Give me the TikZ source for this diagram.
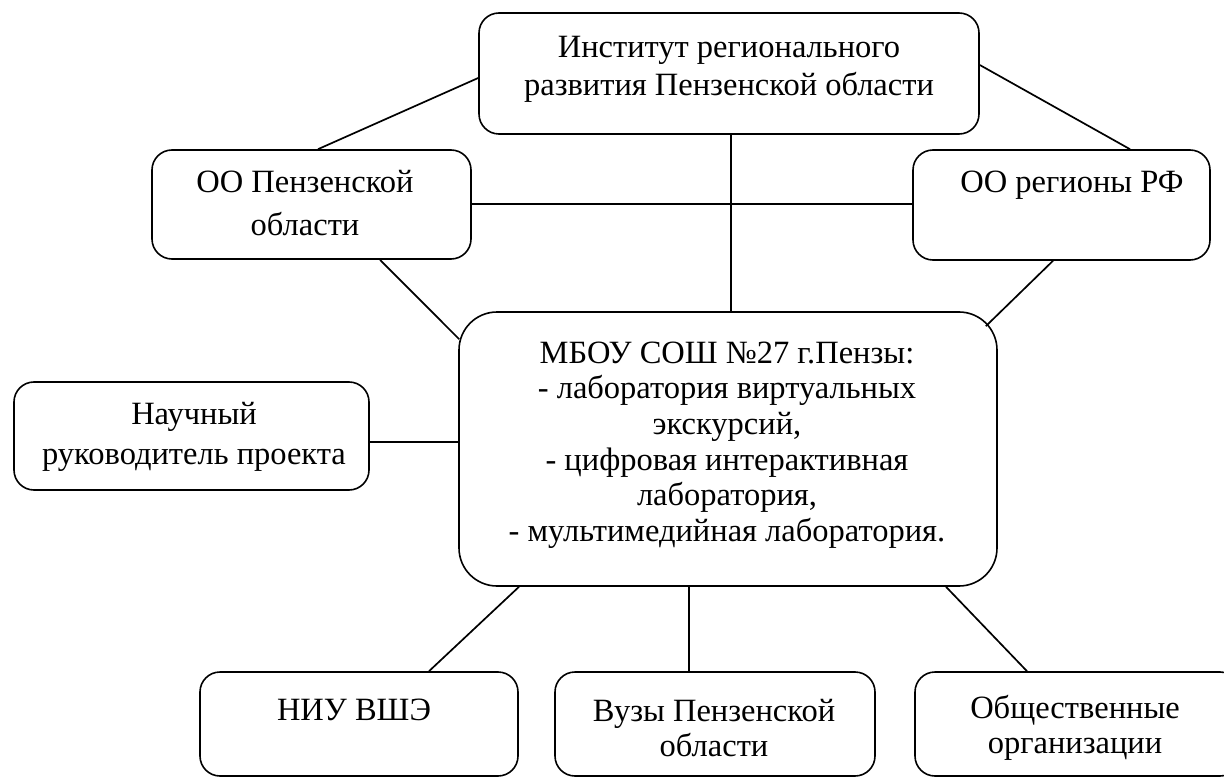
\documentclass[tikz,border=0pt]{standalone}
\usepackage{fontspec}
\setmainfont{Liberation Serif}
\begin{document}
\begin{tikzpicture}[x=1pt,y=-1pt,
  box/.style={draw=black, line width=1.6pt, rounded corners=20pt, inner sep=0pt},
  bigbox/.style={box, rounded corners=38pt},
  lbl/.style={font=\fontsize{32.5}{35.6}\selectfont, align=center, inner sep=0pt},
  conn/.style={line width=1.7pt}]
\useasboundingbox (0,0) rectangle (1224,778);
\begin{scope}
\clip (0,0) rectangle (1224,778);
% boxes
\node[box, minimum width=500pt, minimum height=121pt] (top) at (729,73.5) {};
\node[box, minimum width=319pt, minimum height=109pt] (oop) at (311.5,204.5) {};
\node[box, minimum width=297pt, minimum height=110pt] (oor) at (1061.5,205) {};
\node[bigbox, minimum width=538pt, minimum height=274pt] (mid) at (728,449) {};
\node[box, minimum width=355pt, minimum height=108pt] (nauch) at (191.5,436) {};
\node[box, minimum width=318pt, minimum height=104pt] (niu) at (359,724) {};
\node[box, minimum width=320pt, minimum height=104pt] (vuz) at (715,724) {};
\node[box, minimum width=325pt, minimum height=104pt] (obsh) at (1077.5,724) {};
\end{scope}
% texts
\node[lbl, font=\fontsize{32.5}{38}\selectfont] (ttop) at (729,69) {Институт регионального\\развития Пензенской области};
\node[lbl, font=\fontsize{32.5}{43}\selectfont] (toop) at (305,203) {ОО Пензенской\\области};
\node[lbl] (toor) at (1072,185) {ОО регионы РФ};
\node[lbl] (tmid) at (727,445) {МБОУ СОШ №27 г.Пензы:\\- лаборатория виртуальных\\экскурсий,\\- цифровая интерактивная\\лаборатория,\\- мультимедийная лаборатория.};
\node[lbl, font=\fontsize{32.5}{40}\selectfont] (tnauch) at (194,437) {Научный\\руководитель проекта};
\node[lbl] (tniu) at (354,710) {НИУ ВШЭ};
\node[lbl] (tvuz) at (714,728) {Вузы Пензенской\\области};
\node[lbl] (tobsh) at (1075,728) {Общественные\\организации};
% connectors
\coordinate (oe) at ([yshift=0.5pt]oop.east);
\coordinate (ne) at ([yshift=-6pt]nauch.east);
\coordinate (m1) at ([shift={(1pt,-28pt)}]mid.north west);
\coordinate (m2) at ([shift={(-12pt,-15pt)}]mid.north east);
\draw[conn] ([yshift=-4.5pt]top.west) -- ([xshift=6.5pt]oop.north);
\draw[conn] ([yshift=8.5pt]top.east) -- ([xshift=68.5pt]oor.north);
\draw[conn] ([xshift=2pt]top.south) -- ([xshift=3pt]mid.north);
\draw[conn] (oe) -- (oor.west |- oe);
\draw[conn] ([xshift=68.5pt]oop.south) -- (m1);
\draw[conn] ([xshift=-8.5pt]oor.south) -- (m2);
\draw[conn] (ne) -- (mid.west |- ne);
\draw[conn] ([xshift=-209pt]mid.south) -- ([xshift=70pt]niu.north);
\draw[conn] ([xshift=-39pt]mid.south) -- ([xshift=-26pt]vuz.north);
\draw[conn] ([xshift=218pt]mid.south) -- ([xshift=-50.5pt]obsh.north);
\end{tikzpicture}
\end{document}
